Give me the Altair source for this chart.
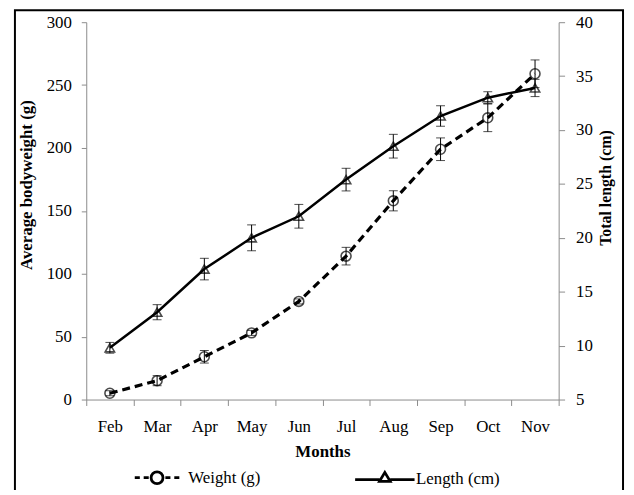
import altair as alt
import pandas as pd

months = ["Feb", "Mar", "Apr", "May", "Jun", "Jul", "Aug", "Sep", "Oct", "Nov"]
weight = [5, 15, 34, 53, 78, 114, 158, 199, 224, 259]
weight_err = [2, 4, 5, 2, 2, 7, 8, 9, 11, 11]
length = [9.8, 13.1, 17.1, 20.0, 22.0, 25.4, 28.5, 31.3, 33.0, 33.9]
length_err = [0.5, 0.7, 1.0, 1.2, 1.1, 1.05, 1.1, 0.95, 0.55, 0.8]
series = ["Weight (g)", "Length (cm)"]

df = pd.DataFrame({
    "month": months,
    "weight": weight,
    "w_lo": [w - e for w, e in zip(weight, weight_err)],
    "w_hi": [w + e for w, e in zip(weight, weight_err)],
    "length": length,
    "l_lo": [v - e for v, e in zip(length, length_err)],
    "l_hi": [v + e for v, e in zip(length, length_err)],
})
leg_df = pd.DataFrame({"series": series})
frame_df = pd.DataFrame({"k": [0]})

FONT = "Liberation Serif"
W, H = 477, 381
GRAY = "#8c8c8c"

x_axis = alt.Axis(
    title="Months", labelAngle=0, tickBand="extent", domainColor=GRAY, tickColor=GRAY,
    tickSize=6, labelFont=FONT, labelFontSize=17, labelColor="black", labelPadding=13,
    titleFont=FONT, titleFontSize=17, titleFontWeight="bold", titleColor="black", titlePadding=10,
)
x = alt.X("month:N", sort=months,
          scale=alt.Scale(type="band", paddingInner=0, paddingOuter=0), axis=x_axis)

left_axis = alt.Axis(
    title="Average bodyweight (g)", values=[0, 50, 100, 150, 200, 250, 300],
    domainColor=GRAY, tickColor=GRAY, tickSize=5, labelFont=FONT, labelFontSize=17,
    labelColor="black", labelPadding=10, titleFont=FONT, titleFontSize=17,
    titleFontWeight="bold", titleColor="black", titleAngle=270, titleBaseline="middle",
    titleAlign="center", titleX=-60, titleY=164,
)
right_axis = alt.Axis(
    title="Total length (cm)", orient="right", values=[5, 10, 15, 20, 25, 30, 35, 40],
    domainColor=GRAY, tickColor=GRAY, tickSize=6, labelFont=FONT, labelFontSize=17,
    labelColor="black", labelPadding=11, titleFont=FONT, titleFontSize=16,
    titleFontWeight="bold", titleColor="black", titleAngle=270, titleBaseline="middle",
    titleAlign="center", titleX=47, titleY=167,
)

ws = alt.Scale(domain=[0, 300])
ls = alt.Scale(domain=[5, 40])

base = alt.Chart(df)

w_line = base.mark_line(color="black", strokeWidth=3.2, strokeDash=[8, 5]).encode(
    x=x, y=alt.Y("weight:Q", scale=ws, axis=left_axis))
w_rule = base.mark_rule(color="black", strokeWidth=1).encode(
    x=x, y=alt.Y("w_lo:Q", scale=ws, axis=left_axis), y2="w_hi:Q")
w_cap1 = base.mark_tick(color="black", size=9, thickness=1).encode(
    x=x, y=alt.Y("w_lo:Q", scale=ws, axis=left_axis))
w_cap2 = base.mark_tick(color="black", size=9, thickness=1).encode(
    x=x, y=alt.Y("w_hi:Q", scale=ws, axis=left_axis))
w_pts = base.mark_point(shape="circle", size=100, filled=False, color="black", strokeWidth=1.6).encode(
    x=x, y=alt.Y("weight:Q", scale=ws, axis=left_axis))
weight_group = alt.layer(w_line, w_rule, w_cap1, w_cap2, w_pts)

l_line = base.mark_line(color="black", strokeWidth=2.5).encode(
    x=x, y=alt.Y("length:Q", scale=ls, axis=right_axis))
l_rule = base.mark_rule(color="black", strokeWidth=1).encode(
    x=x, y=alt.Y("l_lo:Q", scale=ls, axis=right_axis), y2="l_hi:Q")
l_cap1 = base.mark_tick(color="black", size=9, thickness=1).encode(
    x=x, y=alt.Y("l_lo:Q", scale=ls, axis=right_axis))
l_cap2 = base.mark_tick(color="black", size=9, thickness=1).encode(
    x=x, y=alt.Y("l_hi:Q", scale=ls, axis=right_axis))
l_pts = base.mark_point(shape="triangle-up", size=90, filled=False, color="black", strokeWidth=1.6).encode(
    x=x, y=alt.Y("length:Q", scale=ls, axis=right_axis))
length_group = alt.layer(l_line, l_rule, l_cap1, l_cap2, l_pts)

path_w = ("M-0.75,0H-0.58M-0.45,0H-0.28"
          "M0.2,0A0.2,0.2 0 1,1 -0.2,0A0.2,0.2 0 1,1 0.2,0Z"
          "M0.28,0H0.45M0.58,0H0.75")
path_l = "M-1,0H-0.18M0.18,0H1M0,-0.24L0.18,0.06L-0.18,0.06Z"

legend_layer = alt.Chart(leg_df).mark_point(clip=True, color="black", filled=False).encode(
    x=alt.value(-2000), y=alt.value(-2000),
    shape=alt.Shape("series:N", scale=alt.Scale(domain=series, range=[path_w, path_l]),
                    legend=alt.Legend(
                        title=None, orient="none", legendX=40, legendY=428,
                        direction="horizontal", symbolSize=3600, symbolStrokeWidth=2.8,
                        symbolStrokeColor="black", symbolFillColor="white", symbolOpacity=1,
                        labelFont=FONT, labelFontSize=17, labelColor="black", labelOffset=0,
                        columnPadding=89)),
)

frame = alt.Chart(frame_df).mark_rect(fill=None, stroke="black", strokeWidth=2).encode(
    x=alt.value(-72), x2=alt.value(542), y=alt.value(-12), y2=alt.value(478))

chart = alt.layer(weight_group, length_group, legend_layer, frame).resolve_scale(
    y="independent"
).properties(
    width=W, height=H,
    autosize=alt.AutoSizeParams(type="none"),
    padding={"left": 79, "top": 12, "right": 68, "bottom": 89},
).configure_view(stroke=None).configure_axis(grid=False).configure_legend(
    labelFont=FONT, labelFontSize=17, labelColor="black"
).configure_text(font=FONT)

chart.save("out.html", embed_options={"renderer": "svg", "actions": False})
